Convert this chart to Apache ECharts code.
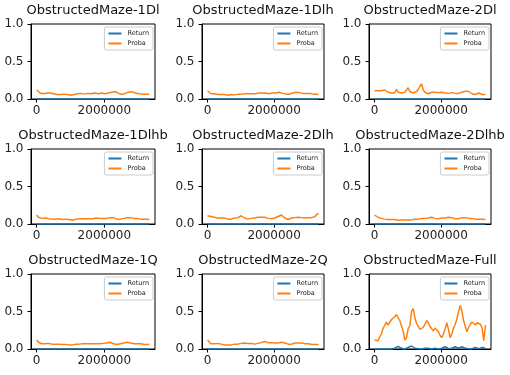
<!DOCTYPE html>
<html>
<head>
<meta charset="utf-8">
<script src="https://cdn.jsdelivr.net/npm/echarts@6/dist/echarts.min.js"></script>
<style>html,body{margin:0;padding:0;background:#fff}#c{width:510px;height:375px}</style>
</head>
<body>
<div id="c"></div>
<script>
const envNames = ["ObstructedMaze-1Dl","ObstructedMaze-1Dlh","ObstructedMaze-2Dl","ObstructedMaze-1Dlhb","ObstructedMaze-2Dlh","ObstructedMaze-2Dlhb","ObstructedMaze-1Q","ObstructedMaze-2Q","ObstructedMaze-Full"];
const seriesNames = ["Return","Proba"];
const xTicks = [0, 2000000];
const yTicks = [0, 0.5, 1.0];
const totalFrames = 3330000;

const zeroReturn = [0,0,0,0,0,0,0,0,0,0,0,0,0,0,0,0,0,0,0,0,0,0,0,0,0,0,0,0,0,0,0,0,0,0,0,0,0,0,0,0,0,0,0,0,0,0,0,0,0,0,0,0,0,0,0,0,0,0,0,0,0,0,0,0,0,0,0];

const proba1Dl = [0.12,0.1,0.08,0.07,0.07,0.075,0.08,0.085,0.08,0.075,0.07,0.065,0.06,0.065,0.06,0.06,0.065,0.06,0.06,0.055,0.05,0.055,0.06,0.065,0.07,0.07,0.075,0.07,0.065,0.07,0.075,0.07,0.07,0.075,0.08,0.075,0.07,0.075,0.08,0.075,0.07,0.075,0.08,0.085,0.09,0.1,0.1,0.09,0.075,0.065,0.06,0.065,0.075,0.085,0.095,0.1,0.095,0.09,0.08,0.075,0.07,0.07,0.065,0.07,0.065,0.06,0.065];
const proba1Dlh = [0.11,0.09,0.07,0.065,0.07,0.065,0.06,0.065,0.06,0.055,0.06,0.055,0.05,0.055,0.06,0.06,0.055,0.06,0.065,0.06,0.065,0.065,0.07,0.065,0.07,0.075,0.07,0.075,0.07,0.075,0.08,0.075,0.08,0.085,0.08,0.075,0.07,0.075,0.08,0.075,0.08,0.085,0.09,0.085,0.075,0.07,0.065,0.06,0.065,0.07,0.08,0.085,0.09,0.09,0.085,0.08,0.075,0.08,0.075,0.07,0.075,0.07,0.065,0.07,0.065,0.06];
const proba2Dl = [0.11,0.11,0.11,0.11,0.11,0.115,0.12,0.1,0.09,0.08,0.08,0.075,0.08,0.13,0.09,0.08,0.08,0.085,0.09,0.12,0.15,0.1,0.09,0.08,0.09,0.1,0.13,0.17,0.2,0.12,0.09,0.08,0.07,0.08,0.09,0.085,0.09,0.08,0.085,0.08,0.09,0.08,0.08,0.07,0.075,0.08,0.085,0.08,0.075,0.07,0.075,0.08,0.09,0.1,0.105,0.1,0.1,0.09,0.07,0.065,0.06,0.07,0.08,0.075,0.06,0.065,0.06];
const proba1Dlhb = [0.12,0.09,0.07,0.075,0.07,0.08,0.075,0.07,0.07,0.065,0.06,0.065,0.06,0.07,0.065,0.06,0.065,0.065,0.06,0.06,0.055,0.05,0.055,0.065,0.07,0.07,0.065,0.07,0.065,0.07,0.065,0.07,0.075,0.07,0.075,0.08,0.07,0.075,0.07,0.075,0.07,0.075,0.08,0.085,0.09,0.085,0.075,0.065,0.06,0.065,0.07,0.075,0.08,0.085,0.09,0.085,0.08,0.075,0.07,0.075,0.07,0.065,0.07,0.065,0.06,0.065,0.06];
const proba2Dlh = [0.11,0.1,0.1,0.09,0.09,0.1,0.08,0.07,0.08,0.1,0.08,0.07,0.065,0.07,0.065,0.07,0.08,0.09,0.085,0.095,0.11,0.1,0.08,0.07,0.065,0.07,0.075,0.08,0.08,0.085,0.09,0.1,0.09,0.085,0.09,0.08,0.075,0.08,0.07,0.075,0.08,0.09,0.1,0.11,0.12,0.1,0.08,0.07,0.06,0.07,0.08,0.09,0.085,0.1,0.09,0.095,0.085,0.09,0.08,0.09,0.085,0.09,0.085,0.09,0.1,0.13,0.14];
const proba2Dlhb = [0.12,0.11,0.09,0.07,0.075,0.07,0.065,0.07,0.06,0.065,0.06,0.055,0.06,0.055,0.05,0.06,0.055,0.06,0.055,0.06,0.055,0.05,0.055,0.06,0.065,0.07,0.065,0.07,0.075,0.08,0.075,0.07,0.08,0.085,0.09,0.08,0.075,0.08,0.07,0.075,0.08,0.075,0.08,0.085,0.09,0.095,0.085,0.075,0.07,0.075,0.07,0.08,0.085,0.09,0.085,0.08,0.075,0.07,0.075,0.07,0.065,0.07,0.065,0.06,0.065,0.06,0.06];
const proba1Q = [0.12,0.09,0.07,0.07,0.075,0.07,0.08,0.075,0.07,0.065,0.06,0.065,0.06,0.065,0.06,0.06,0.065,0.06,0.06,0.055,0.05,0.055,0.06,0.065,0.07,0.065,0.07,0.07,0.065,0.07,0.065,0.07,0.075,0.07,0.075,0.07,0.075,0.07,0.08,0.075,0.07,0.08,0.085,0.09,0.085,0.07,0.065,0.06,0.065,0.07,0.075,0.08,0.085,0.09,0.085,0.08,0.075,0.07,0.075,0.07,0.065,0.07,0.065,0.06,0.065,0.06,0.065];
const proba2Q = [0.12,0.1,0.07,0.075,0.07,0.08,0.075,0.07,0.065,0.06,0.055,0.05,0.055,0.06,0.055,0.06,0.065,0.07,0.065,0.07,0.075,0.09,0.08,0.07,0.075,0.07,0.075,0.07,0.065,0.07,0.075,0.08,0.085,0.09,0.1,0.09,0.085,0.08,0.085,0.09,0.08,0.075,0.08,0.085,0.09,0.085,0.08,0.07,0.065,0.06,0.065,0.07,0.08,0.085,0.08,0.075,0.08,0.075,0.07,0.065,0.07,0.065,0.06,0.065,0.06,0.065,0.06];
const probaFull = [0.12,0.11,0.11,0.12,0.2,0.27,0.28,0.36,0.32,0.34,0.39,0.4,0.43,0.46,0.42,0.38,0.31,0.24,0.12,0.15,0.27,0.31,0.5,0.54,0.42,0.34,0.3,0.26,0.24,0.29,0.33,0.38,0.35,0.3,0.27,0.24,0.28,0.3,0.23,0.18,0.15,0.2,0.27,0.35,0.26,0.15,0.2,0.28,0.33,0.4,0.5,0.58,0.5,0.38,0.3,0.23,0.29,0.33,0.36,0.38,0.32,0.35,0.34,0.33,0.28,0.11,0.32];
const returnFull = [0,0,0,0,0,0,0,0,0,0,0,0.005,0.01,0.03,0.035,0.03,0.01,0.005,0,0.005,0.02,0.03,0.04,0.02,0.01,0.005,0.005,0.01,0,0.005,0.01,0.02,0.01,0.005,0,0.005,0.01,0.005,0,0.005,0.01,0.02,0.03,0.02,0.005,0,0.01,0.02,0.03,0.02,0.01,0.02,0.03,0.02,0.01,0,0.005,0.01,0.005,0.01,0.02,0.01,0.005,0,0.02,0.005,0.01];

const returns = [zeroReturn,zeroReturn,zeroReturn,zeroReturn,zeroReturn,zeroReturn,zeroReturn,zeroReturn,returnFull];
const probas = [proba1Dl,proba1Dlh,proba2Dl,proba1Dlhb,proba2Dlh,proba2Dlhb,proba1Q,proba2Q,probaFull];

// layout
const colLeft = [31, 202, 369];
const colWidth = [124, 122, 122];
const rowTop = [24, 149, 274];
const plotH = 75;
const BLUE = '#1f77b4', ORANGE = '#ff7f0e';
const FONT = 'DejaVu Sans';

function toPairs(arr){ return arr.map((v,i)=>[i*totalFrames/(arr.length-1), v]); }

const grids=[], xAxes=[], yAxes=[], series=[], titles=[], legends=[];
envNames.forEach((name, k)=>{
  const r = Math.floor(k/3), c = k%3;
  const L = colLeft[c], W = colWidth[c], T = rowTop[r];
  grids.push({left:L, top:T, width:W, height:plotH, show:true, borderColor:'#000', borderWidth:1, backgroundColor:'transparent', containLabel:false});
  const pad = totalFrames*0.05;
  xAxes.push({type:'value', gridIndex:k, min:-pad, max:totalFrames+pad,
    axisLine:{show:true, onZero:false, lineStyle:{color:'#000', width:1}},
    axisTick:{show:true, length:3.5, lineStyle:{color:'#000'}, customValues:xTicks},
    axisLabel:{show:true, margin:6, fontSize:12, color:'#222', fontFamily:FONT, customValues:xTicks, formatter:v=>String(v)},
    splitLine:{show:false}});
  yAxes.push({type:'value', gridIndex:k, min:0, max:1, interval:0.5,
    axisLine:{show:true, onZero:false, lineStyle:{color:'#000', width:1}},
    axisTick:{show:true, length:3.5, lineStyle:{color:'#000'}},
    axisLabel:{show:true, margin:7.5, fontSize:12, color:'#222', fontFamily:FONT, formatter:v=>yTicks.includes(v)?v.toFixed(1):''},
    splitLine:{show:false}});
  series.push({type:'line', name:seriesNames[0], xAxisIndex:k, yAxisIndex:k, data:toPairs(returns[k]), showSymbol:false, clip:false, animation:false,
    lineStyle:{color:BLUE, width:1.5}, itemStyle:{color:BLUE}, z:3});
  series.push({type:'line', name:seriesNames[1], xAxisIndex:k, yAxisIndex:k, data:toPairs(probas[k]), showSymbol:false, animation:false,
    lineStyle:{color:ORANGE, width:1.5}, itemStyle:{color:ORANGE}, z:4});
  titles.push({text:name, left:L+W/2, top:T-20, textAlign:'center', padding:0,
    textStyle:{fontSize:13, fontWeight:'normal', color:'#111', fontFamily:FONT, lineHeight:14}});
  legends.push({orient:'vertical', right:510-(L+W)+2, top:T+3, icon:'rect', itemWidth:13, itemHeight:2, itemGap:3,
    padding:[3,4,3,4], borderColor:'#ccc', borderWidth:1, borderRadius:2, backgroundColor:'rgba(255,255,255,0.8)',
    textStyle:{fontSize:6.5, color:'#222', fontFamily:FONT, padding:[0,0,0,1]}, selectedMode:false,
    data:[{name:seriesNames[0], itemStyle:{color:BLUE}},{name:seriesNames[1], itemStyle:{color:ORANGE}}]});
});

const chart = echarts.init(document.getElementById('c'), null, {renderer:'canvas'});
chart.setOption({animation:false, backgroundColor:'#fff', title:titles, legend:legends, grid:grids, xAxis:xAxes, yAxis:yAxes, series:series});
</script>
</body>
</html>
